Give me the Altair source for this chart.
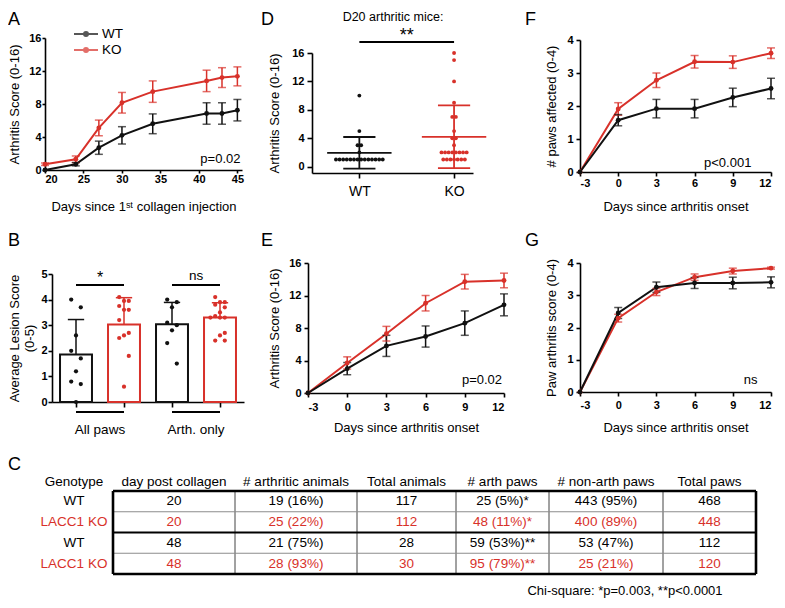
import altair as alt
import pandas as pd

FONT = "Liberation Sans"
RED = "#d8312a"
BLACK = "#111111"
GRAY = "#8c8c8c"

# ---------------- data ----------------
A_DAYS = [20, 24, 27, 30, 34, 41, 43, 45]
A_WT = [0.0, 0.7, 2.7, 4.2, 5.6, 6.85, 6.85, 7.25]
A_WT_ERR = [0.0, 0.2, 0.8, 1.05, 1.2, 1.3, 1.3, 1.3]
A_KO = [0.7, 1.3, 5.1, 8.15, 9.5, 10.8, 11.2, 11.35]
A_KO_ERR = [0.15, 0.4, 0.95, 1.25, 1.3, 1.3, 1.2, 1.15]

ONSET_DAYS = [-3, 0, 3, 6, 9, 12]
E_WT = [0.0, 3.0, 5.8, 6.95, 8.6, 10.85]
E_WT_ERR = [0.0, 0.75, 1.3, 1.3, 1.5, 1.35]
E_KO = [0.0, 3.7, 7.3, 11.05, 13.7, 13.85]
E_KO_ERR = [0.0, 0.75, 0.9, 0.95, 0.9, 0.9]
F_WT = [0.0, 1.57, 1.92, 1.92, 2.26, 2.53]
F_WT_ERR = [0.0, 0.17, 0.28, 0.28, 0.28, 0.31]
F_KO = [0.0, 1.91, 2.78, 3.34, 3.33, 3.6]
F_KO_ERR = [0.0, 0.19, 0.22, 0.19, 0.19, 0.16]
G_WT = [0.0, 2.45, 3.25, 3.38, 3.38, 3.4]
G_WT_ERR = [0.0, 0.17, 0.16, 0.17, 0.18, 0.17]
G_KO = [0.0, 2.29, 3.1, 3.56, 3.75, 3.84]
G_KO_ERR = [0.0, 0.12, 0.11, 0.1, 0.09, 0.03]

B_GROUP_LABELS = ["All paws", "Arth. only"]
B_WT_ALL = [4.0, 3.7, 2.6, 2.0, 1.7, 1.2, 0.8, 0.7, 0.0]
B_KO_ALL = [4.1, 3.95, 3.95, 3.75, 3.6, 3.6, 3.2, 2.7, 2.6, 2.5, 1.8, 0.6]
B_WT_ARTH = [4.0, 3.9, 3.7, 3.1, 3.0, 2.8, 2.3, 1.5]
B_KO_ARTH = [4.1, 3.9, 3.9, 3.8, 3.7, 3.5, 3.35, 3.3, 3.3, 3.3, 2.7, 2.6, 2.4, 2.4]
B_SIG = ["*", "ns"]

D_CATS = ["WT", "KO"]
D_WT = [10, 5, 3, 3, 2, 1, 1, 1, 1, 1, 1, 1, 1, 1, 1, 1, 1, 1, 1]
D_KO = [16, 15, 12, 9, 7, 7, 5, 4, 4, 3, 2, 2, 2, 2, 2, 2, 2, 2, 1, 1, 1, 1, 1, 1, 1]
D_SIG = "**"
D_TITLE = "D20 arthritic mice:"

C_HEADERS = ["Genotype", "day post collagen", "# arthritic animals", "Total animals",
             "# arth paws", "# non-arth paws", "Total paws"]
C_GENOTYPE = ["WT", "LACC1 KO", "WT", "LACC1 KO"]
C_DAY = ["20", "20", "48", "48"]
C_ARTH_ANIMALS = ["19 (16%)", "25 (22%)", "21 (75%)", "28 (93%)"]
C_TOTAL_ANIMALS = ["117", "112", "28", "30"]
C_ARTH_PAWS = ["25 (5%)*", "48 (11%)*", "59 (53%)**", "95 (79%)**"]
C_NONARTH_PAWS = ["443 (95%)", "400 (89%)", "53 (47%)", "25 (21%)"]
C_TOTAL_PAWS = ["468", "448", "112", "120"]
CHI_NOTE = "Chi-square: *p=0.003, **p<0.0001"

P_A, P_E, P_F, P_G = "p=0.02", "p=0.02", "p<0.001", "ns"
X_TITLE_A = "Days since 1ˢᵗ collagen injection"
X_TITLE_ONSET = "Days since arthritis onset"

# ---------------- layout (chart pixel coordinates) ----------------
W, H = 769, 592
TABLE_COL_W = [78, 122, 122, 99, 93, 114, 93]
HEADER_ROW = -0.45
PLAIN = "'' + datum.value"


def sc(dom, rng):
    return alt.Scale(domain=dom, range=rng, nice=False, zero=False)


def xaxis(offset, values, title=None, tick=4, lpad=2, tpad=10, **kw):
    return alt.Axis(orient="bottom", offset=offset, values=values, title=title, tickSize=tick,
                    labelPadding=lpad, titlePadding=tpad, grid=False, **kw)


def yaxis(offset, values, title=None, tick=4, lpad=2, tpad=8, **kw):
    return alt.Axis(orient="left", offset=offset, values=values, title=title, tickSize=tick,
                    labelPadding=lpad, titlePadding=tpad, grid=False, **kw)


def ptext(txt, x, y, xs, ys, xax, yax, align="right", size=13):
    df = pd.DataFrame([{"t": txt, "x": x, "y": y}])
    return alt.Chart(df).mark_text(font=FONT, fontSize=size, align=align, baseline="alphabetic",
                                   color="black").encode(
        x=alt.X("x:Q", scale=xs, axis=xax), y=alt.Y("y:Q", scale=ys, axis=yax), text="t:N")


def line_panel(days, wt, wte, ko, koe, xs, ys, xax, yax, legend=None):
    rows = []
    for g, col, vals, errs in (("KO", RED, ko, koe), ("WT", BLACK, wt, wte)):
        for d, v, e in zip(days, vals, errs):
            rows.append({"day": d, "val": v, "err": e, "lo": v - e, "hi": v + e, "g": g, "col": col})
    base = alt.Chart(pd.DataFrame(rows))
    X = alt.X("day:Q", scale=xs, axis=xax)
    ident = alt.Color("col:N", scale=None)
    if legend is not None:
        lc = alt.Color("g:N", scale=alt.Scale(domain=["WT", "KO"], range=[BLACK, RED]), legend=legend)
    else:
        lc = ident
    line = base.mark_line(strokeWidth=2).encode(X, alt.Y("val:Q", scale=ys, axis=yax), color=lc)
    err = base.transform_filter("datum.err > 0").mark_rule(strokeWidth=1.5).encode(
        X, alt.Y("lo:Q", scale=ys, axis=yax), y2="hi:Q", color=ident)
    caps = base.transform_filter("datum.err > 0").transform_fold(["lo", "hi"], as_=["k", "cap"]).mark_tick(
        orient="horizontal", size=8, thickness=1.5).encode(X, alt.Y("cap:Q", scale=ys, axis=yax), color=ident)
    pts = base.mark_point(filled=True, size=24, opacity=1).encode(
        X, alt.Y("val:Q", scale=ys, axis=yax), color=ident)
    return [line, err, caps, pts]


# ---------------- Panel A ----------------
xsA, ysA = sc([20, 45.6], [37, 234]), sc([0, 16], [162, 30])
axA_x = xaxis(-430, [20, 25, 30, 35, 40, 45], X_TITLE_A, tick=3, lpad=0, tpad=16)
axA_y = yaxis(-37, [0, 4, 8, 12, 16], "Arthritis Score (0-16)", tick=3, lpad=1, tpad=7)
legA = alt.Legend(orient="none", legendX=69, legendY=17, title=None,
                  symbolType="M-1.5,0H1.5M-0.25,0A0.25,0.25,0,1,1,0.25,0A0.25,0.25,0,1,1,-0.25,0",
                  symbolSize=256, symbolStrokeWidth=2, labelFont=FONT, labelFontSize=13.5,
                  labelOffset=7, rowPadding=0, padding=0, labelColor="black")
panelA = alt.layer(*line_panel(A_DAYS, A_WT, A_WT_ERR, A_KO, A_KO_ERR, xsA, ysA, axA_x, axA_y, legA),
                   ptext(P_A, 45.4, 0.85, xsA, ysA, axA_x, axA_y))

# ---------------- Panel E / F / G ----------------
xsE, ysE = sc([-3, 12], [300, 496]), sc([0, 16], [385, 255])
axE_x = xaxis(-207, ONSET_DAYS, X_TITLE_ONSET, tick=4, lpad=4, tpad=9, labelExpr=PLAIN)
axE_y = yaxis(-300, [0, 4, 8, 12, 16], "Arthritis Score (0-16)", tick=4, lpad=3, tpad=7)
panelE = alt.layer(*line_panel(ONSET_DAYS, E_WT, E_WT_ERR, E_KO, E_KO_ERR, xsE, ysE, axE_x, axE_y),
                   ptext(P_E, 11.85, 1.1, xsE, ysE, axE_x, axE_y))

xsF, ysF = sc([-3, 12], [572, 763]), sc([0, 4], [164, 32])
axF_x = xaxis(-428, ONSET_DAYS, X_TITLE_ONSET, tick=4, lpad=1, tpad=12, labelExpr=PLAIN)
axF_y = yaxis(-572, [0, 1, 2, 3, 4], "# paws affected (0-4)", tick=4, lpad=3, tpad=8)
panelF = alt.layer(*line_panel(ONSET_DAYS, F_WT, F_WT_ERR, F_KO, F_KO_ERR, xsF, ysF, axF_x, axF_y),
                   ptext(P_F, 8.6, 0.15, xsF, ysF, axF_x, axF_y, align="center"))

xsG, ysG = sc([-3, 12], [572, 763]), sc([0, 4], [384, 255])
axG_x = xaxis(-208, ONSET_DAYS, X_TITLE_ONSET, tick=4, lpad=3, tpad=11, labelExpr=PLAIN)
axG_y = yaxis(-572, [0, 1, 2, 3, 4], "Paw arthritis score (0-4)", tick=4, lpad=3, tpad=8)
panelG = alt.layer(*line_panel(ONSET_DAYS, G_WT, G_WT_ERR, G_KO, G_KO_ERR, xsG, ysG, axG_x, axG_y),
                   ptext(P_G, 10.4, 0.25, xsG, ysG, axG_x, axG_y, align="center"))

# ---------------- Panel B ----------------
xsB, ysB = sc([-0.5, 3.5], [44, 236]), sc([0, 5], [394, 266])
axB_x = xaxis(-198, [0, 1, 2, 3], None, tick=5, labels=False)
axB_y = yaxis(-44, [0, 1, 2, 3, 4, 5], ["Average Lesion Score", "(0-5)"], tick=4, lpad=1, tpad=4,
              titleLineHeight=15)
B_SETS = [B_WT_ALL, B_KO_ALL, B_WT_ARTH, B_KO_ARTH]
B_COLS = [BLACK, RED, BLACK, RED]
PREF = [-1, 1, 0]


def scatter_offsets(vals, step=0.1, xpx=48.0, ypx=25.6, dmin=4.6):
    placed, offs = [], []
    for i, v in enumerate(vals):
        chosen = 0
        for c in [PREF[i % 3], 0, -1, 1, -2, 2]:
            if all(((c - pc) * step * xpx) ** 2 + ((v - pv) * ypx) ** 2 >= dmin ** 2 for pc, pv in placed):
                chosen = c
                break
        placed.append((chosen, v))
        offs.append(chosen * step)
    return offs


rowsB = []
for gi, (vals, col) in enumerate(zip(B_SETS, B_COLS)):
    for v, o in zip(vals, scatter_offsets(vals)):
        rowsB.append({"gi": gi, "v": v, "x": gi + o, "col": col})
baseB = alt.Chart(pd.DataFrame(rowsB))
statsB = baseB.transform_aggregate(m="mean(v)", s="stdev(v)", groupby=["gi", "col"]).transform_calculate(
    xl="datum.gi - 0.333", xr="datum.gi + 0.333", z="0", top="datum.m + datum.s",
    cl="datum.gi - 0.17", cr="datum.gi + 0.17")
identB = alt.Color("col:N", scale=None)
barsB = statsB.mark_rect(fill="white", strokeWidth=2).encode(
    x=alt.X("xl:Q", scale=xsB, axis=axB_x), x2="xr:Q",
    y=alt.Y("z:Q", scale=ysB, axis=axB_y), y2="m:Q", stroke=alt.Stroke("col:N", scale=None))
errB = statsB.mark_rule(strokeWidth=1.5).encode(
    x=alt.X("gi:Q", scale=xsB, axis=axB_x), y=alt.Y("m:Q", scale=ysB, axis=axB_y), y2="top:Q", color=identB)
capB = statsB.mark_rule(strokeWidth=1.5).encode(
    x=alt.X("cl:Q", scale=xsB, axis=axB_x), x2="cr:Q", y=alt.Y("top:Q", scale=ysB, axis=axB_y), color=identB)
dotsB = baseB.mark_point(filled=True, size=18, opacity=1).encode(
    x=alt.X("x:Q", scale=xsB, axis=axB_x), y=alt.Y("v:Q", scale=ysB, axis=axB_y), color=identB)

pairsB = pd.DataFrame([{"a": 0, "b": 1, "lab": B_GROUP_LABELS[0], "sig": B_SIG[0]},
                       {"a": 2, "b": 3, "lab": B_GROUP_LABELS[1], "sig": B_SIG[1]}])
basePB = alt.Chart(pairsB).transform_calculate(
    mid="(datum.a + datum.b) / 2", ysig="4.57", yul="-0.39", ylab="-1.1",
    ytxt="datum.sig == '*' ? 4.63 : 4.77")
sigLineB = basePB.mark_rule(strokeWidth=2, color="black").encode(
    x=alt.X("a:Q", scale=xsB, axis=axB_x), x2="b:Q", y=alt.Y("ysig:Q", scale=ysB, axis=axB_y))
sigTxtB = basePB.mark_text(font=FONT, baseline="alphabetic", color="black").encode(
    x=alt.X("mid:Q", scale=xsB, axis=axB_x), y=alt.Y("ytxt:Q", scale=ysB, axis=axB_y), text="sig:N",
    size=alt.Size("sig:N", scale=alt.Scale(domain=["*", "ns"], range=[16, 13.5]), legend=None))
ulB = basePB.mark_rule(strokeWidth=2, color="black").encode(
    x=alt.X("a:Q", scale=xsB, axis=axB_x), x2="b:Q", y=alt.Y("yul:Q", scale=ysB, axis=axB_y))
labB = basePB.mark_text(font=FONT, fontSize=13.5, baseline="middle", color="black").encode(
    x=alt.X("mid:Q", scale=xsB, axis=axB_x), y=alt.Y("ylab:Q", scale=ysB, axis=axB_y), text="lab:N")
panelB = alt.layer(barsB, errB, capB, dotsB, sigLineB, sigTxtB, ulB, labB)

# ---------------- Panel D ----------------
xsD, ysD = sc([0.5, 2.2], [304, 465]), sc([-0.9, 16], [165, 45])
axD_x = xaxis(-427, [1, 2], None, tick=5, lpad=6, labelExpr="datum.value == 1 ? 'WT' : 'KO'",
              labelFontWeight="normal", labelFontSize=14)
axD_y = yaxis(-304, [0, 4, 8, 12, 16], "Arthritis Score (0-16)", tick=5, lpad=3, tpad=10)


def row_offsets(vals, step=0.038):
    offs, seen = [], {}
    counts = {v: vals.count(v) for v in vals}
    for v in vals:
        k = seen.get(v, 0)
        seen[v] = k + 1
        offs.append((k - (counts[v] - 1) / 2) * step)
    return offs


rowsD = []
for gi, (vals, col) in enumerate(((D_WT, BLACK), (D_KO, RED)), start=1):
    for v, o in zip(vals, row_offsets(vals)):
        rowsD.append({"gi": gi, "v": v, "x": gi + o, "col": col})
baseD = alt.Chart(pd.DataFrame(rowsD))
identD = alt.Color("col:N", scale=None)
statsD = baseD.transform_aggregate(m="mean(v)", s="stdev(v)", groupby=["gi", "col"]).transform_calculate(
    lo="datum.m - datum.s", hi="datum.m + datum.s", ml="datum.gi - 0.34", mr="datum.gi + 0.34",
    cl="datum.gi - 0.17", cr="datum.gi + 0.17")
meanD = statsD.mark_rule(strokeWidth=1.8).encode(
    x=alt.X("ml:Q", scale=xsD, axis=axD_x), x2="mr:Q", y=alt.Y("m:Q", scale=ysD, axis=axD_y), color=identD)
sdD = statsD.mark_rule(strokeWidth=1.8).encode(
    x=alt.X("gi:Q", scale=xsD, axis=axD_x), y=alt.Y("lo:Q", scale=ysD, axis=axD_y), y2="hi:Q", color=identD)
capD = statsD.transform_fold(["lo", "hi"], as_=["k", "cap"]).mark_rule(strokeWidth=1.8).encode(
    x=alt.X("cl:Q", scale=xsD, axis=axD_x), x2="cr:Q", y=alt.Y("cap:Q", scale=ysD, axis=axD_y), color=identD)
dotsD = baseD.mark_point(filled=True, size=15, opacity=1).encode(
    x=alt.X("x:Q", scale=xsD, axis=axD_x), y=alt.Y("v:Q", scale=ysD, axis=axD_y), color=identD)
sigD = alt.Chart(pd.DataFrame([{"a": 1, "b": 2, "sig": D_SIG}])).transform_calculate(
    mid="(datum.a + datum.b) / 2", ysig="17.55", ytxt="17.7")
sigLineD = sigD.mark_rule(strokeWidth=2.2, color="black").encode(
    x=alt.X("a:Q", scale=xsD, axis=axD_x), x2="b:Q", y=alt.Y("ysig:Q", scale=ysD, axis=axD_y))
sigTxtD = sigD.mark_text(font=FONT, fontSize=18, baseline="alphabetic", color="black").encode(
    x=alt.X("mid:Q", scale=xsD, axis=axD_x), y=alt.Y("ytxt:Q", scale=ysD, axis=axD_y), text="sig:N")
panelD = alt.layer(dotsD, meanD, sdD, capD, sigLineD, sigTxtD)

# ---------------- Table C ----------------
edges = [0]
for w_ in TABLE_COL_W:
    edges.append(edges[-1] + w_)
centers = [(edges[i] + edges[i + 1]) / 2 for i in range(len(TABLE_COL_W))]
xsC, ysC = sc([0, edges[-1]], [27, 27 + edges[-1]]), sc([0, 4], [483, 566])
cols = [C_GENOTYPE, C_DAY, C_ARTH_ANIMALS, C_TOTAL_ANIMALS, C_ARTH_PAWS, C_NONARTH_PAWS, C_TOTAL_PAWS]
rowsC = []
for ci, h in enumerate(C_HEADERS):
    rowsC.append({"x": centers[ci], "y": HEADER_ROW, "t": h, "c": "black"})
    for ri, t in enumerate(cols[ci]):
        rowsC.append({"x": centers[ci], "y": ri + 0.5, "t": t,
                      "c": RED if "KO" in C_GENOTYPE[ri] else "black"})
textC = alt.Chart(pd.DataFrame(rowsC)).mark_text(font=FONT, fontSize=13.5, baseline="middle").encode(
    x=alt.X("x:Q", scale=xsC, axis=None), y=alt.Y("y:Q", scale=ysC, axis=None), text="t:N",
    color=alt.Color("c:N", scale=None))
vlines = []
for i in range(1, len(edges)):
    outer = i in (1, len(edges) - 1)
    vlines.append({"x": edges[i], "y0": 0, "y1": 4, "w": 2.6 if outer else 1.0, "c": "black" if outer else "#444444",
                   "z": 1 if outer else 0})
hlines = []
for r in range(5):
    thick = r in (0, 2, 4)
    hlines.append({"x0": edges[1], "x1": edges[-1], "y": r, "w": (2.6 if r in (0, 4) else 2.0) if thick else 1.2,
                   "c": "black" if thick else GRAY, "z": 1 if thick else 0})
vdf, hdf = pd.DataFrame(vlines), pd.DataFrame(hlines)
layersC = []
for z in (0, 1):
    layersC.append(alt.Chart(vdf[vdf.z == z]).mark_rule().encode(
        x=alt.X("x:Q", scale=xsC, axis=None), y=alt.Y("y0:Q", scale=ysC, axis=None), y2="y1:Q",
        strokeWidth=alt.StrokeWidth("w:Q", scale=None), color=alt.Color("c:N", scale=None)))
    layersC.append(alt.Chart(hdf[hdf.z == z]).mark_rule().encode(
        x=alt.X("x0:Q", scale=xsC, axis=None), x2="x1:Q", y=alt.Y("y:Q", scale=ysC, axis=None),
        strokeWidth=alt.StrokeWidth("w:Q", scale=None), color=alt.Color("c:N", scale=None)))
panelC = alt.layer(textC, *layersC)

# ---------------- annotations ----------------
one = alt.Data(values=[{}])


def label(txt, x, y, size=18, align="left"):
    return alt.Chart(one).mark_text(text=txt, font=FONT, fontSize=size, align=align,
                                    baseline="alphabetic", color="black").encode(
        x=alt.value(x), y=alt.value(y))


letters = [label("A", 0, 17), label("B", 0, 238), label("C", 0, 462), label("D", 253, 17),
           label("E", 253, 238), label("F", 517, 17), label("G", 517, 238),
           label(D_TITLE, 385, 13, size=12.5, align="center"),
           label(CHI_NOTE, 617, 587, size=13, align="center")]

chart = alt.layer(panelA, panelB, panelD, panelE, panelF, panelG, panelC, *letters).resolve_scale(
    x="independent", y="independent", color="independent", size="independent"
).properties(width=W, height=H, padding=0, autosize=alt.AutoSizeParams(type="none")).configure_view(
    stroke=None
).configure_axis(
    domainColor="black", domainWidth=1.6, tickColor="black", tickWidth=1.6,
    labelFont=FONT, labelFontSize=11, labelFontWeight="bold", labelColor="black",
    titleFont=FONT, titleFontSize=13, titleFontWeight="normal", titleColor="black", grid=False
)

chart.save("out.html", embed_options={"renderer": "svg", "actions": False})
